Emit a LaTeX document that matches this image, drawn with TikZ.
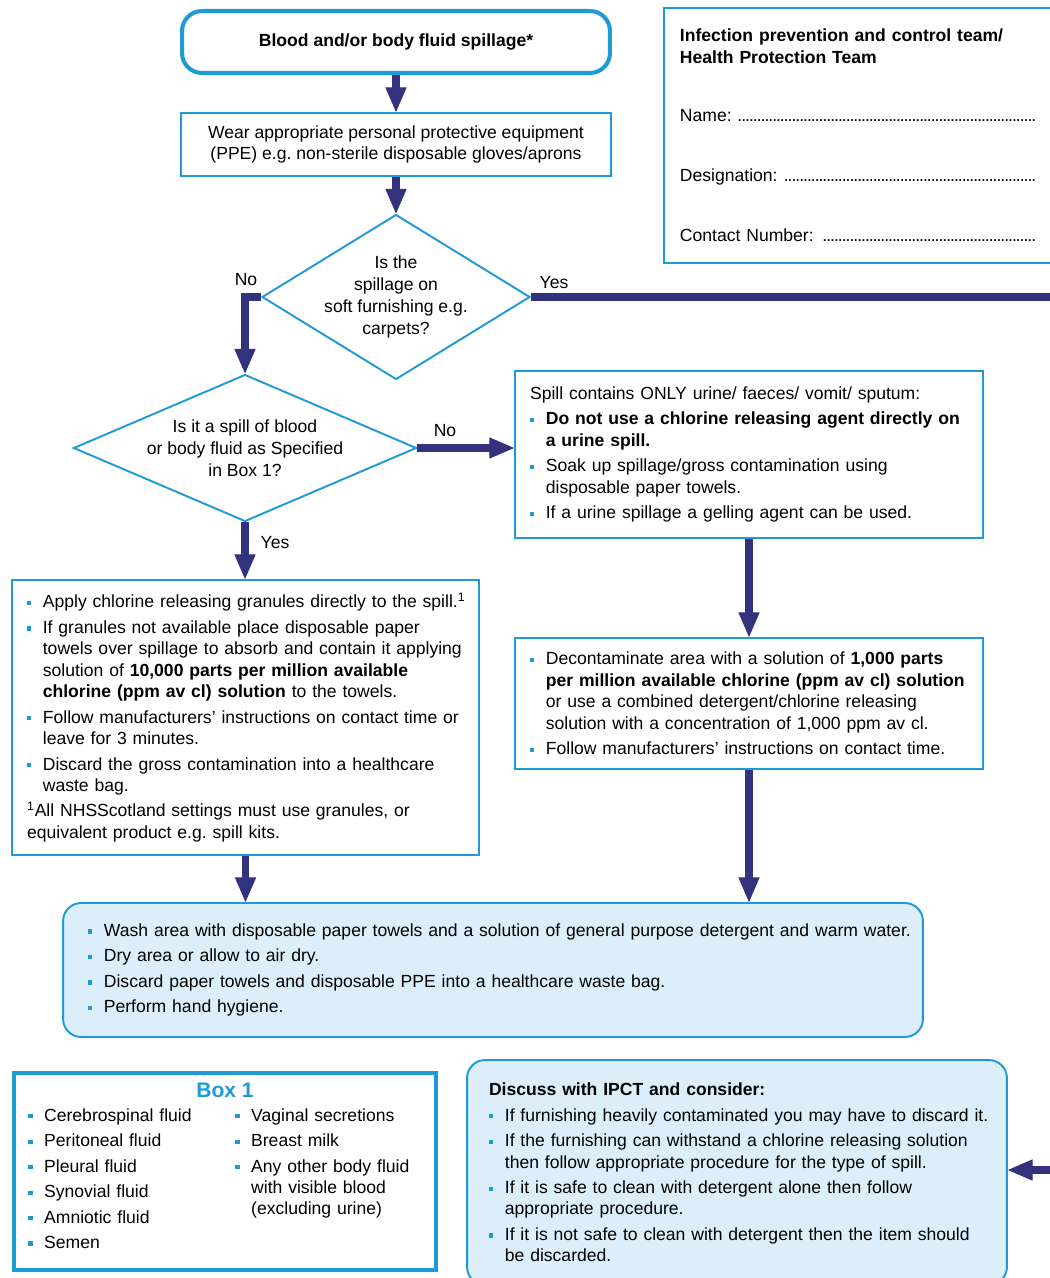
\documentclass[tikz,border=0pt]{standalone}
\usepackage{fontspec}
\setmainfont{Liberation Sans}
\usetikzlibrary{shapes.geometric,arrows.meta,positioning}
\definecolor{nhsblue}{RGB}{30,155,215}
\definecolor{nhsnavy}{RGB}{50,50,125}
\definecolor{nhsfill}{RGB}{219,238,249}
\frenchspacing
\newcommand\bsq{\textcolor{nhsblue}{\rule[0.3ex]{2.4pt}{2.4pt}}}
\newcommand\itm[1]{\hangindent=9pt\hangafter=1\noindent\makebox[9pt][l]{\bsq}#1\par}
\newcommand\nl{\hfil\break}
\newcommand\dotsline{\leaders\hbox to 2.2pt{\hss.\hss}\hfill\hbox{}}
\newcommand\txtsetup{\setlength{\parskip}{2.3pt}\rightskip=-14pt plus 1fil\relax\hyphenpenalty=10000\relax}
\begin{document}
\begin{tikzpicture}[x=0.02cm, y=-0.02cm, font=\fontsize{10}{12.2}\selectfont,
	arr/.style={draw=nhsnavy, line width=4.5pt, -{Triangle[length=14pt,width=12pt,line width=0.5pt]}},
	link/.style={draw=nhsnavy, line width=4.5pt},
	box/.style={draw=nhsblue, line width=1.1pt, text width=#1, inner xsep=0.3cm, inner ysep=0pt,
		execute at begin node=\txtsetup},
	roundbox/.style={box=#1, rounded corners=0.36cm, fill=nhsfill},
	col/.style={anchor=north west, text width=#1, inner sep=0pt, execute at begin node=\txtsetup},
	decision/.style={diamond, draw=nhsblue, line width=1.1pt, inner sep=0pt},
	dtext/.style={align=center, font=\fontsize{10}{12.4}\selectfont}]
	\useasboundingbox (0,0) rectangle (1050,1278);
	\clip (0,0) rectangle (1050,1278);
	% top of the chart
	\node (start) [draw=nhsblue, line width=2.3pt, rounded corners=0.4cm, minimum width=8.56cm, minimum height=1.24cm,
		font=\fontsize{10}{12.2}\selectfont\bfseries] at (396,42) {Blood and/or body fluid spillage*};
	\node (ppe) [draw=nhsblue, line width=1.1pt, minimum width=8.6cm, minimum height=1.26cm, align=center]
		at (396,144.5) {Wear appropriate personal protective equipment\\(PPE) e.g. non-sterile disposable gloves/aprons};
	\node (d1) [decision, minimum width=5.36cm, minimum height=3.3cm] at (396,297) {};
	\node (d1txt) [dtext] at (d1.center) {Is the\\spillage on\\soft furnishing e.g.\\carpets?};
	\node (d2) [decision, minimum width=6.86cm, minimum height=2.94cm] at (245,448) {};
	\node (d2txt) [dtext] at (d2.center) {Is it a spill of blood\\or body fluid as Specified\\in Box 1?};
	\node (ipct) [draw=nhsblue, line width=1.1pt, text width=7.14cm, inner xsep=0.32cm, minimum height=5.1cm, anchor=west,
		execute at begin node={\rightskip=0pt plus 1fil\relax}] at (663,135.5)
		{{\bfseries Infection prevention and control team/\nl Health Protection Team}\par\vspace{21pt}
		Name: \dotsline\par\vspace{22pt}
		Designation: \dotsline\par\vspace{22pt}
		Contact Number: \dotsline\par};
	% the two branches
	\node (urine) [box=8.76cm, minimum height=3.34cm] at (749,454.5)
		{Spill contains ONLY urine/ faeces/ vomit/ sputum:\par
		\itm{\textbf{Do not use a chlorine releasing agent directly on\nl a urine spill.}}
		\itm{Soak up spillage/gross contamination using\nl disposable paper towels.}
		\itm{If a urine spillage a gelling agent can be used.}};
	\node (decon) [box=8.76cm, minimum height=2.62cm] at (749,703.5)
		{\itm{Decontaminate area with a solution of \textbf{1,000 parts}\nl
		\textbf{per million available chlorine (ppm av cl) solution}\nl
		or use a combined detergent/chlorine releasing\nl
		solution with a concentration of 1,000 ppm av cl.}
		\itm{Follow manufacturers' instructions on contact time.}};
	\node (gran) [box=8.74cm, minimum height=5.5cm] at (245.5,717.5)
		{\itm{Apply chlorine releasing granules directly to the spill.\textsuperscript{1}}
		\itm{If granules not available place disposable paper\nl
		towels over spillage to absorb and contain it applying\nl
		solution of \textbf{10,000 parts per million available}\nl
		\textbf{chlorine (ppm av cl) solution} to the towels.}
		\itm{Follow manufacturers' instructions on contact time or\nl leave for 3 minutes.}
		\itm{Discard the gross contamination into a healthcare\nl waste bag.}
		\noindent\textsuperscript{1}All NHSScotland settings must use granules, or\nl
		equivalent product e.g. spill kits.\par};
	\node (wash) [roundbox=16.2cm, inner xsep=0.5cm, minimum height=2.68cm] at (493,970)
		{\itm{Wash area with disposable paper towels and a solution of general purpose detergent and warm water.}
		\itm{Dry area or allow to air dry.}
		\itm{Discard paper towels and disposable PPE into a healthcare waste bag.}
		\itm{Perform hand hygiene.}};
	% bottom boxes
	\node (box1) [draw=nhsblue, line width=2.3pt, minimum width=8.44cm, minimum height=3.94cm] at (225,1171.5) {};
	\node (box1hd) [font=\fontsize{12}{14}\selectfont\bfseries, text=nhsblue] at (225,1090) {Box 1};
	\node (box1l) [col=3.7cm] at (28,1108)
		{\itm{Cerebrospinal fluid}\itm{Peritoneal fluid}\itm{Pleural fluid}
		\itm{Synovial fluid}\itm{Amniotic fluid}\itm{Semen}};
	\node (box1r) [col=3.7cm] at (235,1108)
		{\itm{Vaginal secretions}\itm{Breast milk}
		\itm{Any other body fluid\nl with visible blood\nl (excluding urine)}};
	\node (discuss) [roundbox=9.92cm, inner xsep=0.44cm, minimum height=4.5cm] at (737,1172.5)
		{\textbf{Discuss with IPCT and consider:}\par
		\itm{If furnishing heavily contaminated you may have to discard it.}
		\itm{If the furnishing can withstand a chlorine releasing solution\nl then follow appropriate procedure for the type of spill.}
		\itm{If it is safe to clean with detergent alone then follow\nl appropriate procedure.}
		\itm{If it is not safe to clean with detergent then the item should\nl be discarded.}};
	% connectors
	\coordinate (yesout) at (1060,297);
	\coordinate (backin) at (1060,1170);
	\draw[arr] (start) -- (ppe);
	\draw[arr] (ppe) -- (d1);
	\draw[arr] (d1.west) -| (d2.north);
	\draw[link] (d1.east) -- (yesout);
	\draw[arr] (d2.east) -- (d2.east -| urine.west);
	\draw[arr] (d2.south) -- (d2.south |- gran.north);
	\draw[arr] (urine) -- (decon);
	\draw[arr] (decon.south) -- (decon.south |- wash.north);
	\draw[arr] (gran.south) -- (gran.south |- wash.north);
	\draw[arr] (backin) -- (backin -| discuss.east);
	\node (nolbl1) at (246,280) {No};
	\node (yeslbl1) at (554,283) {Yes};
	\node (nolbl2) at (445,431) {No};
	\node (yeslbl2) at (275,543) {Yes};
\end{tikzpicture}
\end{document}
